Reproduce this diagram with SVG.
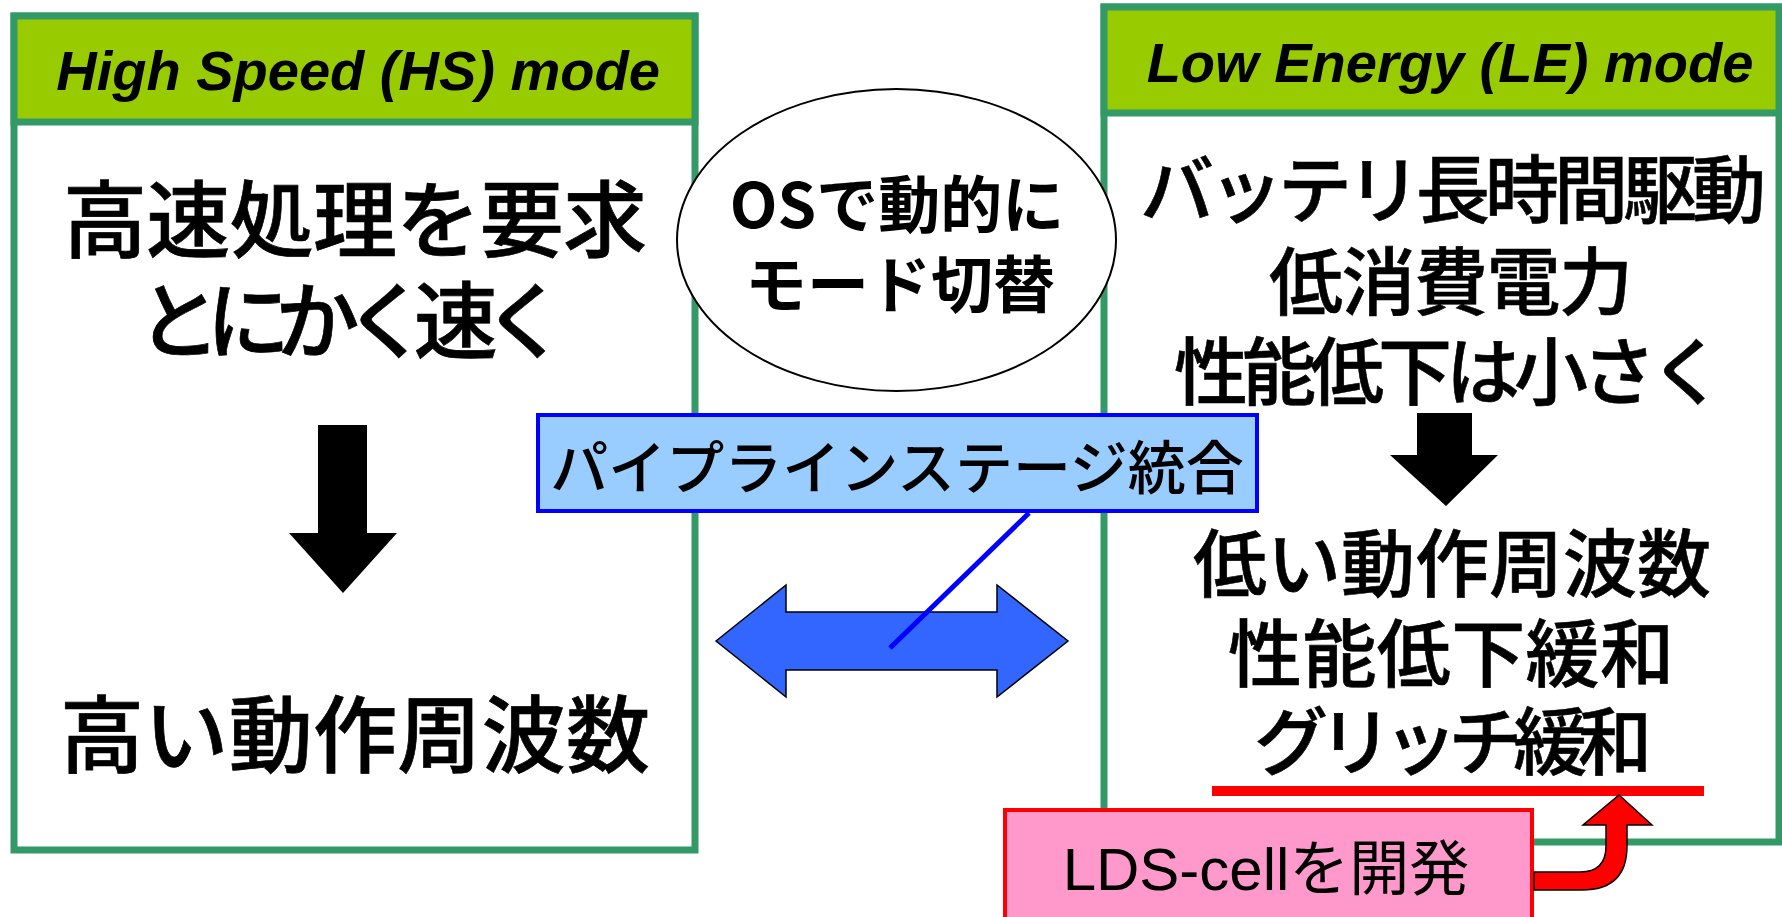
<svg xmlns="http://www.w3.org/2000/svg" width="1782" height="917" viewBox="0 0 1782 917">
<defs>
<style>
.frame{fill:#ffffff;stroke:#339966;stroke-width:7}
.head{fill:#99CC00;stroke:#339966;stroke-width:7}
.htxt{font-family:"Liberation Sans",Arial,sans-serif;font-weight:bold;font-style:italic;font-size:56px;fill:#000;text-anchor:middle}
.jp{font-family:"Noto Sans CJK JP","Noto Sans CJK SC",sans-serif;font-weight:500;fill:#000;text-anchor:middle}
.big{font-size:84px;stroke:#000;stroke-width:0.7}
.mid{font-size:74px;stroke:#000;stroke-width:0.6}
.bold{font-weight:bold;font-size:62px}
.blk{fill:#000000}
</style>
</defs>
<rect width="1782" height="917" fill="#ffffff"/>
<g id="hs-mode">
<rect class="frame" x="14" y="16" width="681" height="834"/>
<rect class="head" x="14" y="16" width="681" height="106"/>
<text class="htxt" x="358" y="90">High Speed (HS) mode</text>
<text class="jp big" x="355" y="251" textLength="584">高速処理を要求</text>
<text class="jp big" x="352" y="352" textLength="430">とにかく速く</text>
<text class="jp big" x="355" y="766" textLength="590">高い動作周波数</text>
</g>
<g id="le-mode">
<rect class="frame" x="1104" y="7" width="675" height="835"/>
<rect class="head" x="1104" y="7" width="675" height="106"/>
<text class="htxt" x="1450" y="82">Low Energy (LE) mode</text>
<text class="jp mid" x="1453" y="217" textLength="626">バッテリ長時間駆動</text>
<text class="jp mid" x="1451" y="309" textLength="364">低消費電力</text>
<text class="jp mid" x="1449" y="399" textLength="550">性能低下は小さく</text>
<text class="jp mid" x="1452" y="591" textLength="518">低い動作周波数</text>
<text class="jp mid" x="1451" y="681" textLength="446">性能低下緩和</text>
<text class="jp mid" x="1453" y="769" textLength="398">グリッチ緩和</text>
<rect x="1212" y="786" width="492" height="10" fill="#FF0000"/>
</g>
<g id="os-switch">
<ellipse cx="896.5" cy="240" rx="219.5" ry="151" fill="#ffffff" stroke="#000000" stroke-width="2"/>
<text class="jp bold" x="897" y="228">OSで動的に</text>
<text class="jp bold" x="900" y="308">モード切替</text>
</g>
<g id="pipeline-label">
<rect x="538" y="415" width="719" height="96" fill="#99CCFF" stroke="#0000FF" stroke-width="4"/>
<text class="jp" x="897" y="489" font-size="58" font-weight="400">パイプラインステージ統合</text>
</g>
<g id="lds-cell">
<rect x="1005" y="810" width="527" height="130" fill="#FF99CC" stroke="#FF0000" stroke-width="4"/>
<text x="1266" y="890" font-family="'Liberation Sans','Noto Sans CJK JP',sans-serif" font-size="60" text-anchor="middle" fill="#000">LDS-cellを開発</text>
</g>
<g id="connectors">
<path class="blk" d="M318,425 H367 V533 H397 L343,593 L289,533 H318 Z"/>
<path class="blk" d="M1417,413 H1472 V455 H1498 L1446,506 L1390,455 H1417 Z"/>
<path d="M716,641 L786,585 L786,612 L997,612 L997,585 L1068,641 L997,697 L997,670 L786,670 L786,697 Z" fill="#3366FF" stroke="#000000" stroke-width="1.5"/>
<line x1="1029" y1="513" x2="890" y2="648" stroke="#0000FF" stroke-width="5"/>
<path d="M1534,872 H1580 Q1606,872 1606,846 V825 H1583 L1619,795 L1652,825 H1627 V846 Q1627,890 1582,890 H1534 Z" fill="#FF0000" stroke="#000000" stroke-width="1.5"/>
</g>
</svg>
